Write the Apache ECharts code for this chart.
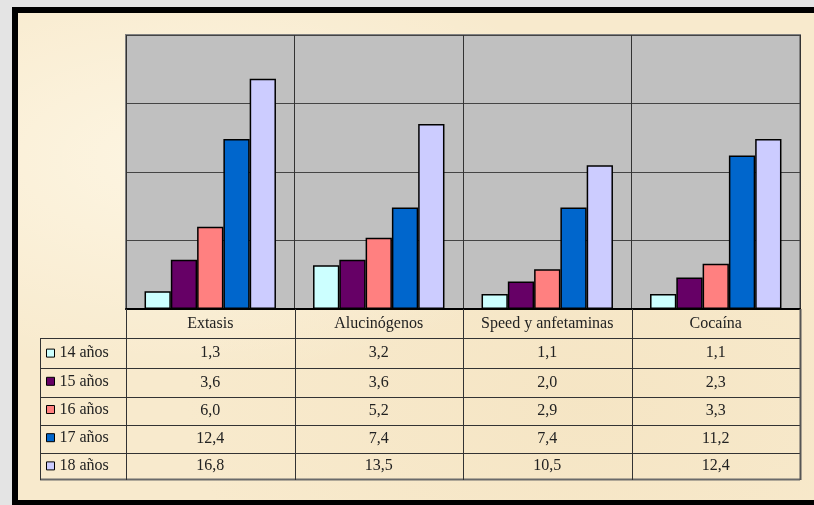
<!DOCTYPE html>
<html>
<head>
<meta charset="utf-8">
<script src="https://cdn.jsdelivr.net/npm/echarts@6/dist/echarts.min.js"></script>
<style>
  html, body { margin: 0; padding: 0; width: 814px; height: 505px; overflow: hidden; background: #e4e4e4; }
  #frame {
    position: absolute; left: 12px; top: 7px; width: 820px; height: 510px; box-sizing: border-box;
    border-left: 6px solid #000; border-top: 6px solid #000; border-bottom: 17px solid #000;
    background: #f8eacd;
    background-image: radial-gradient(ellipse at 20% 30%, rgba(255,250,235,0.7), rgba(255,250,235,0) 45%),
                      radial-gradient(ellipse at 70% 80%, rgba(240,220,180,0.35), rgba(240,220,180,0) 50%);
  }
  #chart { position: absolute; left: 0; top: 0; width: 814px; height: 505px; }
</style>
</head>
<body>
<div id="frame"></div>
<div id="chart"></div>
<script>
// datos
const categories = ['Extasis', 'Alucinógenos', 'Speed y anfetaminas', 'Cocaína'];
const ages = ['14 años', '15 años', '16 años', '17 años', '18 años'];
const age14 = [1.3, 3.2, 1.1, 1.1];
const age15 = [3.6, 3.6, 2.0, 2.3];
const age16 = [6.0, 5.2, 2.9, 3.3];
const age17 = [12.4, 7.4, 7.4, 11.2];
const age18 = [16.8, 13.5, 10.5, 12.4];
const seriesData = [age14, age15, age16, age17, age18];
const colors = ['#ccffff', '#660066', '#ff8080', '#0066cc', '#ccccff'];

const font = "'Liberation Serif', 'Times New Roman', serif";
const fmt = v => v.toFixed(1).replace('.', ',');

// layout of the table
const gridLeft = 126, gridRight = 800, axisY = 309;
const headerBottom = 338;
const rowLines = [338, 368, 397, 425, 453, 479];
const legendLeft = 40;

let chart = echarts.init(document.getElementById('chart'));

const series = ages.map((name, i) => ({
  name: name,
  type: 'bar',
  data: seriesData[i],
  barGap: 0,
  barCategoryGap: '22%',
  itemStyle: { color: colors[i], borderColor: '#000', borderWidth: 1.5 }
}));

chart.setOption({
  animation: false,
  backgroundColor: 'transparent',
  color: colors,
  grid: {
    left: gridLeft, right: 814 - gridRight, top: 35, bottom: 505 - axisY,
    show: true, backgroundColor: '#c0c0c0', borderColor: '#808080', borderWidth: 2
  },
  xAxis: {
    type: 'category',
    data: categories,
    axisLine: { lineStyle: { color: '#000', width: 2 } },
    axisTick: { show: false, interval: 0 },
    splitLine: { show: true, interval: 0, lineStyle: { color: '#333', width: 1 } },
    axisLabel: { interval: 0, margin: 7, fontFamily: font, fontSize: 16, color: '#222' }
  },
  yAxis: {
    type: 'value', min: 0, max: 20, interval: 5,
    axisLine: { show: false }, axisTick: { show: false }, axisLabel: { show: false },
    splitLine: { lineStyle: { color: '#444', width: 1 } }
  },
  legend: {
    orient: 'vertical', left: 46, top: 339, padding: 0, itemGap: 0,
    itemWidth: 8, itemHeight: 8, icon: 'rect',
    itemStyle: { borderColor: '#000', borderWidth: 1 },
    textStyle: { fontFamily: font, fontSize: 16, color: '#222', lineHeight: 28.2 },
    selectedMode: false,
    data: ages
  },
  series: series
});

// tabla de datos debajo del eje
const lineStyle = { stroke: '#333', lineWidth: 1 };
const g = [];
rowLines.forEach((y, i) => {
  const last = i === rowLines.length - 1;
  g.push({ type: 'line', shape: { x1: legendLeft, y1: y + 0.5, x2: gridRight, y2: y + 0.5 },
    style: last ? { stroke: '#6a6a6a', lineWidth: 2 } : lineStyle, z: 10 });
});
g.push({ type: 'line', shape: { x1: legendLeft + 0.5, y1: headerBottom, x2: legendLeft + 0.5, y2: 480 }, style: lineStyle, z: 10 });
const cw = (gridRight - gridLeft) / categories.length;
for (let i = 0; i <= categories.length; i++) {
  const x = Math.round(gridLeft + i * cw) + 0.5;
  g.push({ type: 'line', shape: { x1: x, y1: axisY, x2: x, y2: 480 },
    style: i === categories.length ? { stroke: '#555', lineWidth: 2 } : lineStyle, z: 10 });
}
seriesData.forEach((vals, r) => {
  const cy = (rowLines[r] + rowLines[r + 1]) / 2;
  vals.forEach((v, c) => {
    const cx = chart.convertToPixel({ xAxisIndex: 0 }, c);
    g.push({ type: 'text', x: cx, y: cy, z: 10,
      style: { text: fmt(v), font: '16px ' + font, fill: '#222', align: 'center', verticalAlign: 'middle' } });
  });
});
chart.setOption({ graphic: g });
</script>
</body>
</html>
